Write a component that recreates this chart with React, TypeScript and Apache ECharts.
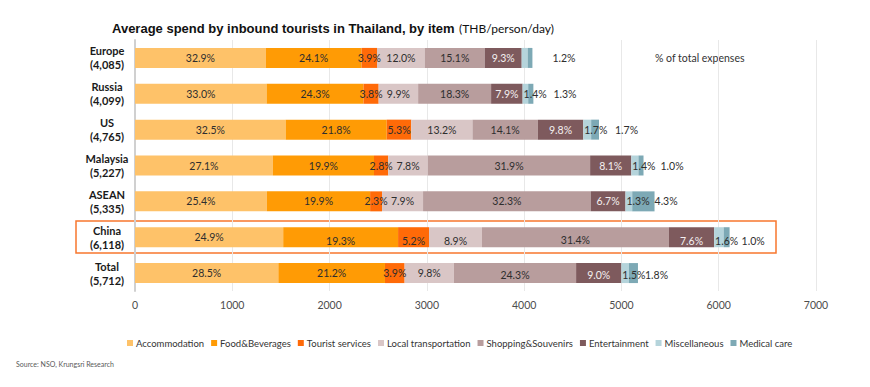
import React, { useEffect, useRef } from 'react';
import * as echarts from 'echarts';

// Category tick labels (region + stated average spend)
const categories = [
  'Europe\n(4,085)',
  'Russia\n(4,099)',
  'US\n(4,765)',
  'Malaysia\n(5,227)',
  'ASEAN\n(5,335)',
  'China\n(6,118)',
  'Total\n(5,712)',
];
// Bar lengths in THB as drawn in the picture
const barTotals = [4085, 4099, 4765, 5227, 5335, 6118, 5170];

const itemNames = [
  'Accommodation',
  'Food&Beverages',
  'Tourist services',
  'Local transportation',
  'Shopping&Souvenirs',
  'Entertainment',
  'Miscellaneous',
  'Medical care',
];

// % of total expenses per item
const accommodation = [32.9, 33.0, 32.5, 27.1, 25.4, 24.9, 28.5];
const foodBeverages = [24.1, 24.3, 21.8, 19.9, 19.9, 19.3, 21.2];
const touristServices = [3.9, 3.8, 5.3, 2.8, 2.3, 5.2, 3.9];
const localTransport = [12.0, 9.9, 13.2, 7.8, 7.9, 8.9, 9.8];
const shoppingSouvenirs = [15.1, 18.3, 14.1, 31.9, 32.3, 31.4, 24.3];
const entertainment = [9.3, 7.9, 9.8, 8.1, 6.7, 7.6, 9.0];
const miscellaneous = [1.5, 1.4, 1.7, 1.4, 1.3, 1.6, 1.5];
const medicalCare = [1.2, 1.3, 1.7, 1.0, 4.3, 1.0, 1.8];

const itemPcts = [
  accommodation,
  foodBeverages,
  touristServices,
  localTransport,
  shoppingSouvenirs,
  entertainment,
  miscellaneous,
  medicalCare,
];

const colors = [
  '#FEC269',
  '#FF9B05',
  '#FF6A08',
  '#D9C6C6',
  '#B89D9D',
  '#7E5A5D',
  '#B5D4DB',
  '#7DA9B5',
];

// style helpers (not data)
const medicalLabelGap = [20, 20, 16, 17, 0, 12, 7];
const chinaRowIndex = 5;
const totalRowIndex = 6;

const FONT = 'Lato';

export default function App() {
  const ref = useRef<HTMLDivElement>(null);

  useEffect(() => {
    document.body.style.margin = '0';
    if (!ref.current) return;
    const chart = echarts.init(ref.current, undefined, { renderer: 'svg' });

    const series = itemNames.map((name, si) => {
      const data = itemPcts[si].map((pct, ci) => {
        const item: any = {
          value: (pct / 100) * barTotals[ci],
          pct,
        };
        const label: any = {};
        if (si === 6) {
          label.position = 'insideLeft';
          label.distance = 1;
          if (ci === 0) label.show = false;
        }
        if (si === 7) {
          label.position = 'right';
          label.distance = medicalLabelGap[ci];
        }
        if (ci === chinaRowIndex && si !== 0) {
          label.offset = [0, si === 4 ? 3 : 4];
        }
        if (ci === totalRowIndex && si >= 4) {
          label.offset = [0, 2];
        }
        item.label = label;
        return item;
      });
      return {
        name,
        type: 'bar',
        stack: 'spend',
        barWidth: 20,
        itemStyle: { color: colors[si] },
        label: {
          show: true,
          position: 'inside',
          fontFamily: FONT,
          fontSize: 10.5,
          color: si === 5 ? '#F4F0F0' : '#2E2E2E',
          formatter: (p: any) => p.data.pct.toFixed(1) + '%',
        },
        data,
      };
    });

    chart.setOption({
      animation: false,
      textStyle: { fontFamily: FONT },
      title: {
        text: '{b|Average spend by inbound tourists in Thailand, by item} {n|(THB/person/day)}',
        left: 107,
        top: 14,
        textStyle: {
          rich: {
            b: {
              fontFamily: 'Liberation Sans',
              fontWeight: 'bold',
              fontSize: 13,
              color: '#111111',
            },
            n: {
              fontFamily: FONT,
              fontWeight: 'normal',
              fontSize: 12,
              color: '#111111',
            },
          },
        },
      },
      grid: { left: 135, right: 54, top: 40, bottom: 96, containLabel: false },
      xAxis: {
        type: 'value',
        min: 0,
        max: 7000,
        interval: 1000,
        axisLine: { show: false },
        axisTick: { show: false },
        splitLine: { lineStyle: { color: '#E8E8E8', width: 1 } },
        axisLabel: {
          color: '#4D4D4D',
          fontSize: 10.5,
          margin: 8,
          fontFamily: FONT,
          formatter: (v: number) => String(v),
        },
      },
      yAxis: {
        type: 'category',
        inverse: true,
        data: categories,
        axisLine: { lineStyle: { color: '#D0D0D0', width: 2 } },
        axisTick: { show: false },
        axisLabel: {
          align: 'center',
          margin: 28,
          fontFamily: FONT,
          fontWeight: 'bold',
          fontSize: 11,
          lineHeight: 14,
          color: '#1A1A1A',
        },
      },
      legend: {
        data: itemNames,
        left: 122,
        top: 333,
        icon: 'rect',
        itemWidth: 6,
        itemHeight: 6,
        itemGap: 7,
        textStyle: { fontFamily: FONT, fontSize: 9.5, color: '#333333', padding: [0, 0, 0, -2] },
      },
      graphic: [
        {
          type: 'rect',
          shape: { x: 76, y: 221, width: 700, height: 32 },
          style: { fill: 'none', stroke: '#F7772E', lineWidth: 1.5 },
          silent: true,
        },
        {
          type: 'text',
          x: 655,
          y: 58,
          style: {
            text: '% of total expenses',
            fontFamily: FONT,
            fontSize: 10.5,
            fill: '#333333',
            verticalAlign: 'middle',
          },
        },
        {
          type: 'text',
          x: 16,
          y: 364,
          style: {
            text: 'Source: NSO, Krungsri Research',
            fontFamily: FONT,
            fontSize: 7,
            fill: '#595959',
            verticalAlign: 'middle',
          },
        },
      ],
      series,
    });

    return () => chart.dispose();
  }, []);

  return <div ref={ref} style={{ width: 870, height: 387 }} />;
}
